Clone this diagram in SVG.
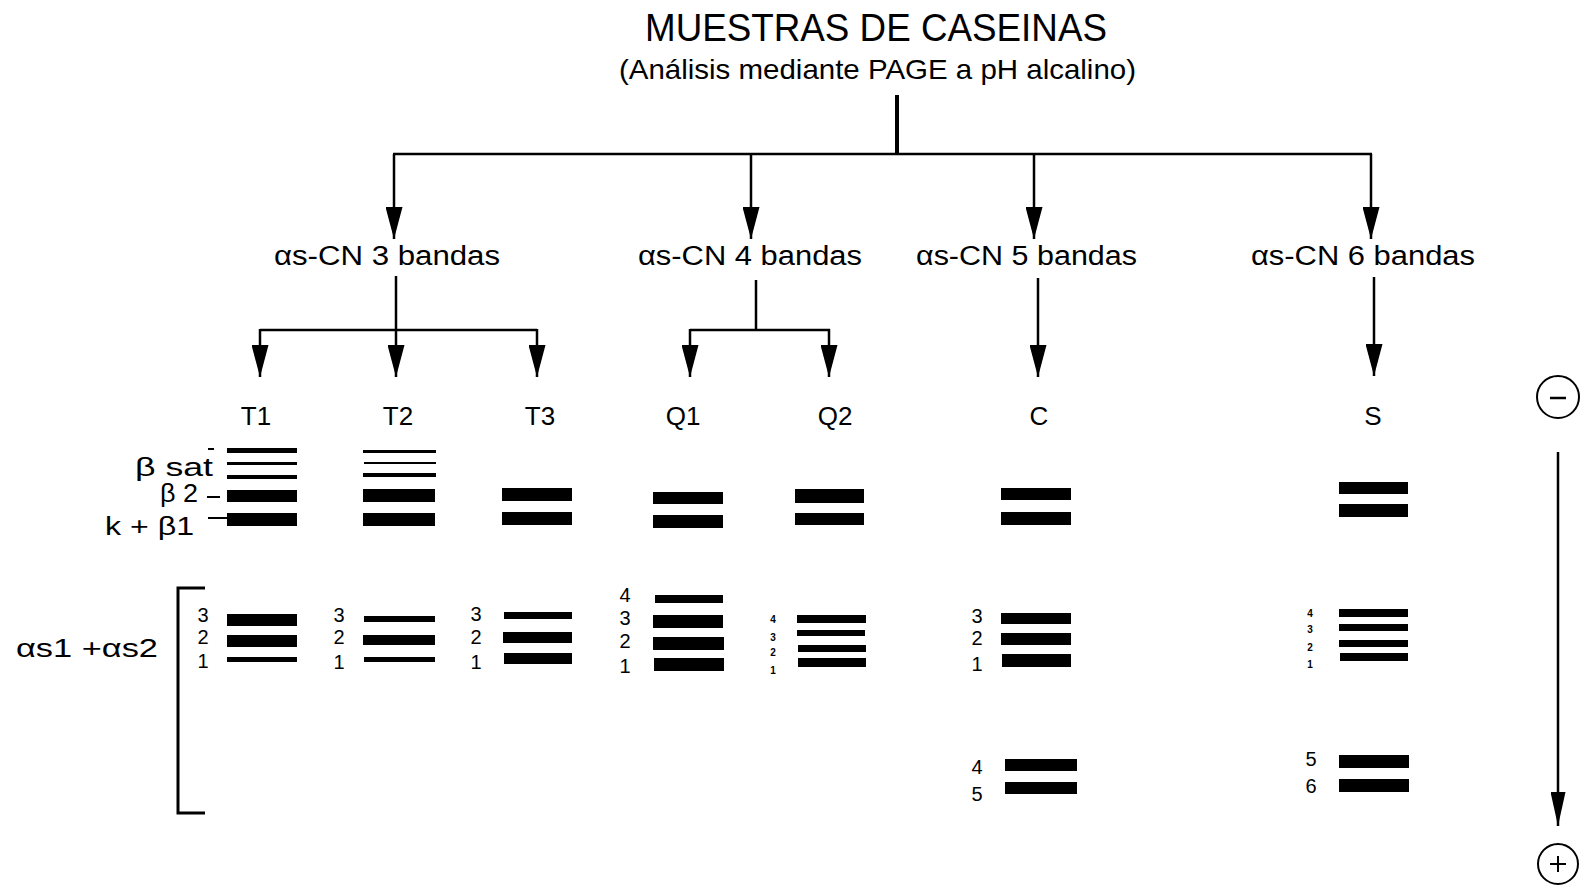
<svg xmlns="http://www.w3.org/2000/svg" width="1588" height="893" viewBox="0 0 1588 893">
<defs>
<marker id="ah" viewBox="0 0 32 17" refX="32" refY="8.5" markerWidth="32" markerHeight="17" markerUnits="userSpaceOnUse" orient="auto">
<path d="M0,0 L32,8.5 L0,17 z" fill="#000"/>
</marker>
<marker id="ah2" viewBox="0 0 34 15" refX="34" refY="7.5" markerWidth="34" markerHeight="15" markerUnits="userSpaceOnUse" orient="auto">
<path d="M0,0 L34,7.5 L0,15 z" fill="#000"/>
</marker>
<style>
text{font-family:"Liberation Sans",Arial,Helvetica,sans-serif;fill:#000}
.t{font-size:27px}
.lane{font-size:26px;text-anchor:middle}
.num{font-size:20px;text-anchor:middle}
.tiny{font-size:10px;text-anchor:middle;font-weight:bold}
.side{font-size:25px}
.c{stroke:#000;stroke-width:2.5;fill:none}
.ca{stroke:#000;stroke-width:2.5;fill:none;marker-end:url(#ah)}
.b{fill:#000}
</style>
</defs>
<rect x="0" y="0" width="1588" height="893" fill="#fff"/>

<g id="title">
<text x="645" y="41" font-size="39" textLength="462" lengthAdjust="spacingAndGlyphs">MUESTRAS DE CASEINAS</text>
<text x="619" y="79" font-size="28" textLength="517" lengthAdjust="spacingAndGlyphs">(Análisis mediante PAGE a pH alcalino)</text>
</g>

<g id="connectors">
<line class="c" x1="897" y1="95" x2="897" y2="154" style="stroke-width:4"/>
<line class="c" x1="393" y1="154" x2="1372" y2="154"/>
<line class="ca" x1="394" y1="154" x2="394" y2="239"/>
<line class="ca" x1="751" y1="154" x2="751" y2="239"/>
<line class="ca" x1="1034" y1="154" x2="1034" y2="239"/>
<line class="ca" x1="1371" y1="154" x2="1371" y2="239"/>

<line class="c" x1="396" y1="276" x2="396" y2="330"/>
<line class="c" x1="260" y1="330" x2="537" y2="330"/>
<line class="ca" x1="260" y1="329" x2="260" y2="377"/>
<line class="ca" x1="396" y1="329" x2="396" y2="377"/>
<line class="ca" x1="537" y1="329" x2="537" y2="377"/>

<line class="c" x1="756" y1="280" x2="756" y2="330"/>
<line class="c" x1="690" y1="330" x2="830" y2="330"/>
<line class="ca" x1="690" y1="329" x2="690" y2="377"/>
<line class="ca" x1="829" y1="329" x2="829" y2="377"/>

<line class="ca" x1="1038" y1="278" x2="1038" y2="377"/>
<line class="ca" x1="1374" y1="277" x2="1374" y2="376"/>
</g>

<g id="groups">
<text class="t" x="274" y="265" textLength="226" lengthAdjust="spacingAndGlyphs">αs-CN 3 bandas</text>
<text class="t" x="638" y="265" textLength="224" lengthAdjust="spacingAndGlyphs">αs-CN 4 bandas</text>
<text class="t" x="916" y="265" textLength="221" lengthAdjust="spacingAndGlyphs">αs-CN 5 bandas</text>
<text class="t" x="1251" y="265" textLength="224" lengthAdjust="spacingAndGlyphs">αs-CN 6 bandas</text>
</g>

<g id="side-labels">
<text class="side" x="135" y="476" textLength="78" lengthAdjust="spacingAndGlyphs">β sat</text>
<line class="c" x1="208" y1="449" x2="214" y2="449" style="stroke-width:2"/>
<text class="side" x="160" y="502" textLength="38" lengthAdjust="spacingAndGlyphs">β 2</text>
<line class="c" x1="207" y1="497" x2="220" y2="497" style="stroke-width:2"/>
<text class="side" x="105" y="535" textLength="89" lengthAdjust="spacingAndGlyphs">k + β1</text>
<line class="c" x1="208" y1="518" x2="228" y2="518" style="stroke-width:2"/>
<text class="side" x="16" y="657" font-size="27" textLength="142" lengthAdjust="spacingAndGlyphs">αs1 +αs2</text>
<path class="c" d="M205,588 L178,588 L178,813 L205,813" style="stroke-width:3"/>
</g>

<g id="lane-T1">
<text class="lane" x="256" y="425">T1</text>
<rect class="b" x="227" y="448" width="70" height="5"/>
<rect class="b" x="227" y="462" width="70" height="3"/>
<rect class="b" x="227" y="475" width="70" height="4"/>
<rect class="b" x="227" y="490" width="70" height="12"/>
<rect class="b" x="227" y="513" width="70" height="13"/>
<rect class="b" x="227" y="614" width="70" height="12"/>
<rect class="b" x="227" y="635" width="70" height="12"/>
<rect class="b" x="227" y="657" width="70" height="5"/>
<text class="num" x="203" y="622">3</text>
<text class="num" x="203" y="644">2</text>
<text class="num" x="203" y="668">1</text>
</g>

<g id="lane-T2">
<text class="lane" x="398" y="425">T2</text>
<rect class="b" x="363" y="450" width="73" height="3"/>
<rect class="b" x="364" y="462" width="72" height="2"/>
<rect class="b" x="363" y="473" width="73" height="4"/>
<rect class="b" x="363" y="489" width="72" height="13"/>
<rect class="b" x="363" y="513" width="72" height="13"/>
<rect class="b" x="364" y="616" width="71" height="6"/>
<rect class="b" x="363" y="635" width="72" height="10"/>
<rect class="b" x="364" y="657" width="71" height="5"/>
<text class="num" x="339" y="622">3</text>
<text class="num" x="339" y="644">2</text>
<text class="num" x="339" y="669">1</text>
</g>

<g id="lane-T3">
<text class="lane" x="540" y="425">T3</text>
<rect class="b" x="502" y="488" width="70" height="13"/>
<rect class="b" x="502" y="512" width="70" height="13"/>
<rect class="b" x="504" y="612" width="68" height="7"/>
<rect class="b" x="503" y="632" width="69" height="11"/>
<rect class="b" x="504" y="653" width="68" height="11"/>
<text class="num" x="476" y="621">3</text>
<text class="num" x="476" y="644">2</text>
<text class="num" x="476" y="669">1</text>
</g>

<g id="lane-Q1">
<text class="lane" x="683" y="425">Q1</text>
<rect class="b" x="653" y="492" width="70" height="12"/>
<rect class="b" x="653" y="515" width="70" height="13"/>
<rect class="b" x="655" y="595" width="68" height="8"/>
<rect class="b" x="653" y="615" width="70" height="13"/>
<rect class="b" x="653" y="637" width="71" height="13"/>
<rect class="b" x="654" y="658" width="70" height="13"/>
<text class="num" x="625" y="602">4</text>
<text class="num" x="625" y="625">3</text>
<text class="num" x="625" y="648">2</text>
<text class="num" x="625" y="673">1</text>
</g>

<g id="lane-Q2">
<text class="lane" x="835" y="425">Q2</text>
<rect class="b" x="795" y="489" width="69" height="14"/>
<rect class="b" x="795" y="513" width="69" height="12"/>
<rect class="b" x="797" y="615" width="69" height="8"/>
<rect class="b" x="797" y="630" width="68" height="6"/>
<rect class="b" x="798" y="645" width="68" height="7"/>
<rect class="b" x="798" y="658" width="68" height="9"/>
<text class="tiny" x="773" y="623">4</text>
<text class="tiny" x="773" y="641">3</text>
<text class="tiny" x="773" y="656">2</text>
<text class="tiny" x="773" y="674">1</text>
</g>

<g id="lane-C">
<text class="lane" x="1039" y="425">C</text>
<rect class="b" x="1001" y="488" width="70" height="12"/>
<rect class="b" x="1001" y="512" width="70" height="13"/>
<rect class="b" x="1001" y="613" width="70" height="11"/>
<rect class="b" x="1001" y="633" width="70" height="12"/>
<rect class="b" x="1002" y="654" width="69" height="13"/>
<rect class="b" x="1005" y="759" width="72" height="12"/>
<rect class="b" x="1005" y="782" width="72" height="12"/>
<text class="num" x="977" y="623">3</text>
<text class="num" x="977" y="645">2</text>
<text class="num" x="977" y="671">1</text>
<text class="num" x="977" y="774">4</text>
<text class="num" x="977" y="801">5</text>
</g>

<g id="lane-S">
<text class="lane" x="1373" y="425">S</text>
<rect class="b" x="1339" y="482" width="69" height="12"/>
<rect class="b" x="1339" y="504" width="69" height="13"/>
<rect class="b" x="1339" y="609" width="69" height="8"/>
<rect class="b" x="1339" y="624" width="69" height="7"/>
<rect class="b" x="1339" y="640" width="69" height="7"/>
<rect class="b" x="1340" y="653" width="68" height="8"/>
<rect class="b" x="1339" y="755" width="70" height="13"/>
<rect class="b" x="1339" y="779" width="70" height="13"/>
<text class="tiny" x="1310" y="617">4</text>
<text class="tiny" x="1310" y="633">3</text>
<text class="tiny" x="1310" y="651">2</text>
<text class="tiny" x="1310" y="668">1</text>
<text class="num" x="1311" y="766">5</text>
<text class="num" x="1311" y="793">6</text>
</g>

<g id="electrodes">
<circle cx="1558" cy="397" r="21" fill="none" stroke="#000" stroke-width="2"/>
<line x1="1550" y1="398" x2="1566" y2="398" stroke="#000" stroke-width="2.5"/>
<line x1="1558" y1="452" x2="1558" y2="826" stroke="#000" stroke-width="2.5" marker-end="url(#ah2)"/>
<circle cx="1558" cy="864" r="20" fill="none" stroke="#000" stroke-width="2"/>
<line x1="1550" y1="864" x2="1566" y2="864" stroke="#000" stroke-width="2"/>
<line x1="1558" y1="856" x2="1558" y2="872" stroke="#000" stroke-width="2"/>
</g>
</svg>
